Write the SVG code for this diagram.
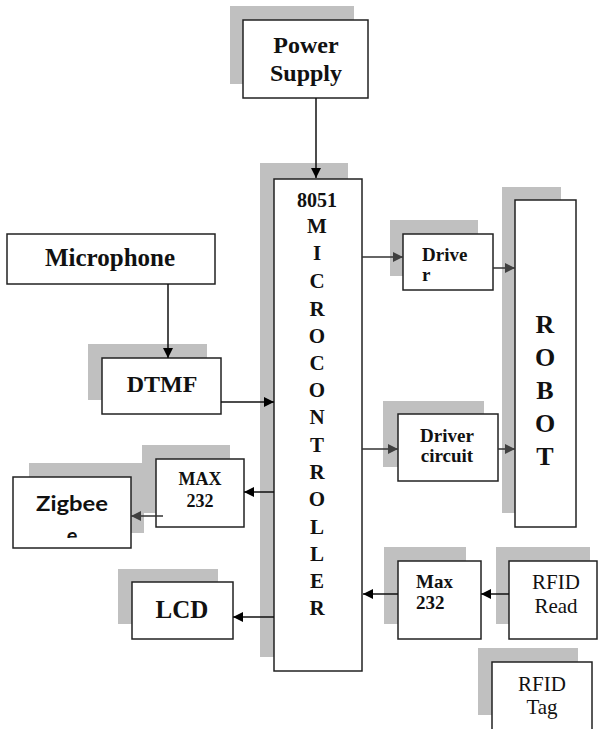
<svg xmlns="http://www.w3.org/2000/svg" width="600" height="729" viewBox="0 0 600 729">
<style>
.sh{fill:#c0c0c0}
.bx{fill:#fff;stroke:#222;stroke-width:1.5}
.c{fill:none;stroke:#111;stroke-width:1.5}
.g{fill:none;stroke:#333;stroke-width:1.5}
</style>
<defs>
<marker id="ab" markerUnits="userSpaceOnUse" markerWidth="12" markerHeight="12" refX="10" refY="5" orient="auto"><path d="M0,0 L10,5 L0,10 z" fill="#000"/></marker>
<marker id="ag" markerUnits="userSpaceOnUse" markerWidth="12" markerHeight="12" refX="10" refY="5" orient="auto"><path d="M0,0 L10,5 L0,10 z" fill="#404040"/></marker>
<clipPath id="zc"><rect x="13" y="477" width="118" height="61"/></clipPath>
</defs>

<g id="power-supply">
<rect class="sh" x="230" y="6" width="124" height="78"/>
<rect class="bx" x="243" y="20" width="125" height="78"/>
<g font-family="'Liberation Serif',serif" font-weight="bold" fill="#111" text-anchor="middle" font-size="24">
<text x="306" y="53">Power</text>
<text x="306" y="81">Supply</text>
</g>
</g>

<g id="microcontroller">
<rect class="sh" x="260" y="163" width="88" height="494"/>
<rect class="bx" x="274" y="179" width="88" height="492"/>
<g font-family="'Liberation Serif',serif" font-weight="bold" fill="#111" text-anchor="middle">
<text x="317" y="207" font-size="20">8051</text>
<text font-size="21"><tspan x="317" y="233">M</tspan><tspan x="317" y="260">I</tspan><tspan x="317" y="288">C</tspan><tspan x="317" y="316">R</tspan><tspan x="317" y="343">O</tspan><tspan x="317" y="370">C</tspan><tspan x="317" y="397">O</tspan><tspan x="317" y="424">N</tspan><tspan x="317" y="452">T</tspan><tspan x="317" y="479">R</tspan><tspan x="317" y="506">O</tspan><tspan x="317" y="534">L</tspan><tspan x="317" y="561">L</tspan><tspan x="317" y="588">E</tspan><tspan x="317" y="615">R</tspan></text>
</g>
</g>

<g id="microphone">
<rect class="bx" x="7" y="234" width="208" height="50"/>
<text x="110" y="266" font-size="25" font-family="'Liberation Serif',serif" font-weight="bold" fill="#111" text-anchor="middle">Microphone</text>
</g>

<g id="dtmf">
<rect class="sh" x="88" y="344" width="119" height="56"/>
<rect class="bx" x="102" y="358" width="119" height="56"/>
<text x="162" y="392" font-size="24" font-family="'Liberation Serif',serif" font-weight="bold" fill="#111" text-anchor="middle">DTMF</text>
</g>

<g id="driver">
<rect class="sh" x="390" y="220" width="88" height="56"/>
<rect class="bx" x="403" y="234" width="90" height="56"/>
<g font-family="'Liberation Serif',serif" font-weight="bold" fill="#111" font-size="19">
<text x="422" y="261">Drive</text>
<text x="422" y="281">r</text>
</g>
</g>

<g id="driver-circuit">
<rect class="sh" x="383" y="401" width="101" height="66"/>
<rect class="bx" x="398" y="414" width="100" height="67"/>
<g font-family="'Liberation Serif',serif" font-weight="bold" fill="#111" text-anchor="middle" font-size="19">
<text x="447" y="442">Driver</text>
<text x="447" y="462">circuit</text>
</g>
</g>

<g id="robot">
<rect class="sh" x="502" y="187" width="59" height="326"/>
<rect class="bx" x="515" y="200" width="61" height="327"/>
<text font-size="26" font-family="'Liberation Serif',serif" font-weight="bold" fill="#111" text-anchor="middle"><tspan x="545" y="333">R</tspan><tspan x="545" y="366">O</tspan><tspan x="545" y="399">B</tspan><tspan x="545" y="432">O</tspan><tspan x="545" y="465">T</tspan></text>
</g>

<g id="zigbee">
<rect class="sh" x="29" y="463" width="115" height="70"/>
<rect class="bx" x="13" y="477" width="118" height="71"/>
<g font-family="Lato,'Open Sans',sans-serif" font-weight="bold" fill="#111" text-anchor="middle" font-size="20">
<text x="72" y="511" textLength="72" lengthAdjust="spacingAndGlyphs">Zigbee</text>
<text x="72" y="543" clip-path="url(#zc)">e</text>
</g>
</g>

<g id="max232-left">
<rect class="sh" x="142" y="445" width="88" height="68"/>
<rect class="bx" x="156" y="459" width="88" height="68"/>
<g font-family="'Liberation Serif',serif" font-weight="bold" fill="#111" text-anchor="middle" font-size="18">
<text x="200" y="485">MAX</text>
<text x="200" y="507">232</text>
</g>
</g>

<g id="lcd">
<rect class="sh" x="118" y="569" width="100" height="55"/>
<rect class="bx" x="132" y="582" width="101" height="57"/>
<text x="182" y="618" font-size="25" font-family="'Liberation Serif',serif" font-weight="bold" fill="#111" text-anchor="middle">LCD</text>
</g>

<g id="max232-right">
<rect class="sh" x="384" y="547" width="82" height="77"/>
<rect class="bx" x="398" y="561" width="83" height="78"/>
<g font-family="'Liberation Serif',serif" font-weight="bold" fill="#111" font-size="19">
<text x="416" y="588">Max</text>
<text x="416" y="609">232</text>
</g>
</g>

<g id="rfid-read">
<rect class="sh" x="496" y="547" width="94" height="77"/>
<rect class="bx" x="509" y="561" width="88" height="78"/>
<g font-family="'Liberation Serif',serif" fill="#111" text-anchor="middle" font-size="21">
<text x="556" y="589">RFID</text>
<text x="556" y="613">Read</text>
</g>
</g>

<g id="rfid-tag">
<rect class="sh" x="478" y="648" width="100" height="67"/>
<rect class="bx" x="492" y="662" width="100" height="75"/>
<g font-family="'Liberation Serif',serif" fill="#111" text-anchor="middle" font-size="21">
<text x="542" y="691">RFID</text>
<text x="542" y="714">Tag</text>
</g>
</g>

<g id="connectors">
<path class="c" d="M316,98 V178" marker-end="url(#ab)"/>
<path class="c" d="M168,284 V358" marker-end="url(#ab)"/>
<path class="c" d="M221,402 H274" marker-end="url(#ab)"/>
<path class="g" d="M362,257 H403" marker-end="url(#ag)"/>
<path class="g" d="M493,268 H515" marker-end="url(#ag)"/>
<path class="g" d="M362,449 H398" marker-end="url(#ag)"/>
<path class="g" d="M498,449 H515" marker-end="url(#ag)"/>
<path class="c" d="M274,492 H244" marker-end="url(#ab)"/>
<path class="g" d="M163,516 H131" marker-end="url(#ag)"/>
<path class="c" d="M274,617 H233" marker-end="url(#ab)"/>
<path class="c" d="M398,594 H363" marker-end="url(#ab)"/>
<path class="c" d="M509,594 H481" marker-end="url(#ab)"/>
</g>
</svg>
